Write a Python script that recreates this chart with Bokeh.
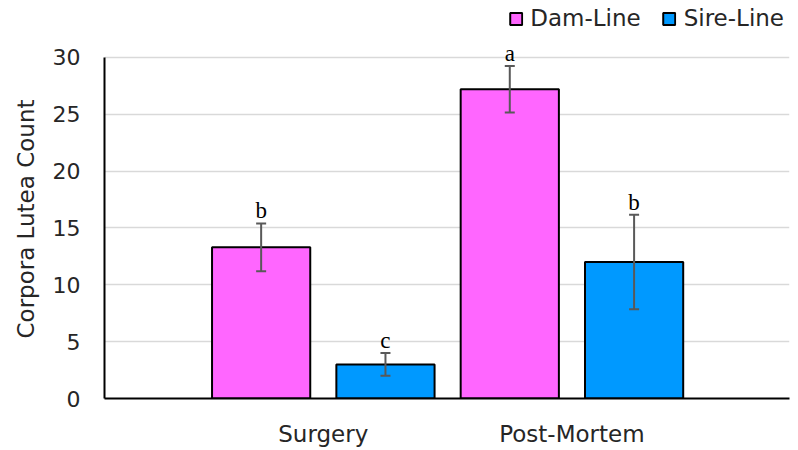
from bokeh.plotting import figure
from bokeh.models import (ColumnDataSource, Range1d, FixedTicker, Title,
                          Whisker, TeeHead, Legend, LegendItem)
from bokeh.core.properties import value
from bokeh.embed import file_html
from bokeh.resources import INLINE

# ---- data ----
stages = ["Surgery", "Post-Mortem"]
lines = ["Dam-Line", "Sire-Line"]
dam_mean = [13.3, 27.2]
dam_err = [2.1, 2.05]
sire_mean = [3.0, 12.0]
sire_err = [1.0, 4.15]
dam_letters = ["b", "a"]
sire_letters = ["c", "b"]
y_ticks = [0, 5, 10, 15, 20, 25, 30]

colors = {"Dam-Line": "#FF66FF", "Sire-Line": "#0099FF"}
FONT = "DejaVu Sans"
SERIF = "Liberation Serif"
TXT = "#262626"

n_series = len(lines)
group_centers = [i * n_series + (n_series - 1) / 2 for i in range(len(stages))]

p = figure(width=798, height=450, output_backend="svg", toolbar_location=None,
           x_range=Range1d(-1.26, n_series * len(stages) - 1 + 1.25),
           y_range=Range1d(0, 35.0),
           min_border_left=104, min_border_right=9, min_border_top=0, min_border_bottom=52)
p.outline_line_color = None
p.background_fill_color = "white"

renderers = {}
for j, (lname, means, errs, letters) in enumerate(
        [("Dam-Line", dam_mean, dam_err, dam_letters),
         ("Sire-Line", sire_mean, sire_err, sire_letters)]):
    src = ColumnDataSource(dict(
        x=[i * n_series + j for i in range(len(stages))],
        top=means,
        upper=[m + e for m, e in zip(means, errs)],
        lower=[m - e for m, e in zip(means, errs)],
        letter=letters,
    ))
    r = p.vbar(x="x", top="top", width=0.79, source=src, fill_color=colors[lname],
               line_color="black", line_width=2)
    renderers[lname] = r
    w = Whisker(base="x", upper="upper", lower="lower", source=src, level="overlay",
                line_color="#595959", line_width=2,
                upper_head=TeeHead(size=10, line_color="#595959", line_width=2),
                lower_head=TeeHead(size=10, line_color="#595959", line_width=2))
    p.add_layout(w)
    p.text(x="x", y="upper", text="letter", source=src, text_align="center",
           text_baseline="bottom", y_offset=0, text_font=value(SERIF),
           text_font_size="23px", text_color="black")

legend = Legend(items=[LegendItem(label=l, renderers=[renderers[l]]) for l in lines],
                orientation="horizontal", location="top_right")
legend.glyph_width = 15
legend.glyph_height = 15
legend.label_standoff = 7
legend.spacing = 21
legend.padding = 0
legend.margin = 5
legend.border_line_color = None
legend.background_fill_alpha = 0
legend.label_text_font = FONT
legend.label_text_font_size = "23px"
legend.label_text_color = TXT
p.add_layout(legend)

# axes
p.yaxis.ticker = FixedTicker(ticks=y_ticks)
p.yaxis.bounds = (0, 30)
p.yaxis.axis_line_color = "black"
p.yaxis.axis_line_width = 2
p.yaxis.major_tick_line_color = None
p.yaxis.minor_tick_line_color = None
p.yaxis.major_tick_out = 0
p.yaxis.major_tick_in = 0
p.yaxis.major_label_standoff = 24
p.yaxis.major_label_text_font = FONT
p.yaxis.major_label_text_font_size = "22px"
p.yaxis.major_label_text_color = TXT

# y-axis title, placed along the 0-30 span of the axis
ytitle = Title(text="Corpora Lutea Count", align="left", offset=60, standoff=21,
               text_font=FONT, text_font_size="23px", text_font_style="normal",
               text_color=TXT)
p.add_layout(ytitle, "left")

p.xaxis.ticker = FixedTicker(ticks=group_centers)
p.xaxis.major_label_overrides = {c: s for c, s in zip(group_centers, stages)}
p.xaxis.axis_line_color = "black"
p.xaxis.axis_line_width = 2
p.xaxis.major_tick_line_color = None
p.xaxis.minor_tick_line_color = None
p.xaxis.major_tick_out = 0
p.xaxis.major_tick_in = 0
p.xaxis.major_label_standoff = 22
p.xaxis.major_label_text_font = FONT
p.xaxis.major_label_text_font_size = "23px"
p.xaxis.major_label_text_color = TXT

p.xgrid.grid_line_color = None
p.ygrid.grid_line_color = "#D9D9D9"
p.ygrid.grid_line_width = 1.5

open("out.html", "w").write(file_html(p, INLINE))
